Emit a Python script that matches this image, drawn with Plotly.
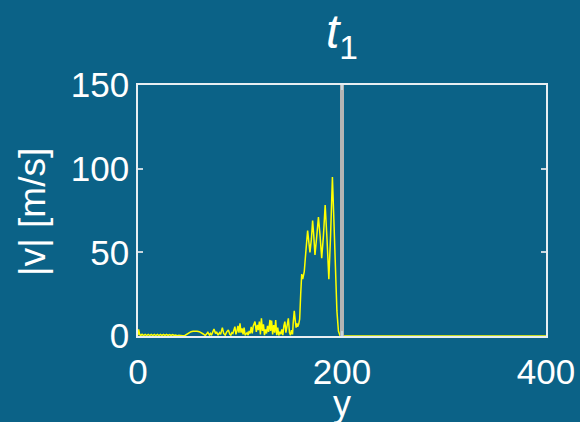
import plotly.graph_objects as go

# ---- data ----
y_pos = [
    0, 0.6, 1.5, 2.5, 4, 5.5, 7, 8.5, 10, 11.5,
    13, 14.5, 16, 17.5, 19, 20.5, 22, 23.5, 25, 26.5,
    28, 29.5, 31, 32.5, 34, 35.5, 37, 38.5, 40, 42,
    44, 46, 48, 50, 52, 54, 56, 58, 60, 62,
    64, 66, 67, 68.5, 70, 71, 72, 74.5, 76, 77,
    78.5, 80, 81, 82.7, 84, 85.5, 87, 88.6, 90, 91,
    92, 93, 95, 96, 97, 98, 99, 100, 101, 102,
    103, 104, 105, 106, 107, 108, 109, 110, 111, 112,
    113, 114.7, 116, 117, 118, 119, 120, 121, 122, 123,
    124, 125, 126, 127, 128, 129.4, 130, 131, 132, 133,
    134, 135, 136, 137, 138, 139, 140, 141, 142, 143,
    144, 145, 146, 147.4, 148.5, 149.5, 150.5, 151.5, 152.2, 153.2,
    154.2, 155, 155.7, 156.5, 157.5, 158.5, 159.5, 160.5, 161.5, 163,
    164.5, 166.3, 167.5, 168.6, 170, 171.2, 172.3, 173.5, 175, 176.9,
    178.5, 180.1, 181.8, 183.5, 185.3, 187.1, 188.8, 190.6, 192, 193.5,
    195, 196.5, 198, 199, 200, 400,
]
speed = [
    0.5, 4.0, 1.2, 0.2, 1.0, 0.3, 1.0, 0.3, 1.0, 0.3,
    1.0, 0.3, 1.0, 0.3, 1.0, 0.3, 1.0, 0.3, 0.9, 0.3,
    0.9, 0.3, 0.8, 0.3, 0.8, 0.3, 0.6, 0.2, 0.4, 0.2,
    0.2, 0.3, 1.2, 2.0, 2.6, 2.9, 3.0, 2.9, 2.6, 2.0,
    1.2, 0.3, 1.0, 2.2, 0.6, 1.5, 0.4, 4.2, 1.5, 2.5,
    0.5, 2.0, 1.0, 5.0, 1.5, 0.5, 2.5, 3.6, 1.0, 0.5,
    2.0, 1.5, 5.6, 1.0, 3.0, 6.0, 2.0, 7.6, 2.0, 4.5,
    1.0, 5.0, 0.5, 1.5, 2.0, 0.5, 3.0, 1.5, 5.5, 1.5,
    6.0, 8.6, 2.5, 6.6, 3.5, 8.6, 1.0, 10.6, 3.0, 7.0,
    0.5, 4.0, 1.5, 6.0, 2.5, 9.6, 3.0, 9.2, 1.0, 6.5,
    2.0, 9.6, 0.5, 5.0, 0.3, 2.5, 1.0, 4.0, 0.5, 6.0,
    8.6, 2.0, 6.0, 10.6, 2.0, 0.5, 3.5, 1.0, 8.0, 15.0,
    9.0, 5.0, 7.6, 5.5, 7.0, 10.0, 25.0, 37.0, 34.0, 38.5,
    50.0, 63.0, 56.0, 50.0, 58.0, 69.0, 60.0, 48.5, 58.0, 71.0,
    60.0, 46.5, 60.0, 78.3, 58.0, 34.0, 60.0, 95.0, 70.0, 40.0,
    15.0, 3.0, 0.3, 0.0, 0.0, 0.0,
]
marker_y = [200, 200]
marker_v = [0, 150]

x_ticks = [0, 200, 400]
v_ticks = [0, 50, 100, 150]

BG = "#0b6287"
FONT = "Liberation Sans, Arial, sans-serif"

fig = go.Figure()
fig.add_trace(go.Scatter(x=y_pos, y=speed, mode="lines",
                         line=dict(color="#ffff00", width=1.5),
                         showlegend=False, hoverinfo="skip"))
fig.add_trace(go.Scatter(x=marker_y, y=marker_v, mode="lines",
                         line=dict(color="#b4b4b4", width=4),
                         showlegend=False, hoverinfo="skip"))

axis_common = dict(
    showline=True, linecolor="#e8eef2", linewidth=1.5, mirror="ticks",
    ticks="inside", ticklen=5, tickcolor="#c8d6de", tickwidth=1.5,
    showgrid=False, zeroline=False, automargin=False,
    tickfont=dict(family=FONT, size=35, color="white"),
)

fig.update_layout(
    width=580, height=422,
    paper_bgcolor=BG, plot_bgcolor=BG,
    margin=dict(l=138, r=34, t=85, b=86),
    font=dict(family=FONT, color="white"),
    title=dict(text="<i>t</i><sub>1</sub>", x=0.5, xref="paper", xanchor="center",
               y=0.925, yref="container", yanchor="middle",
               font=dict(family=FONT, size=48, color="white")),
    xaxis=dict(range=[0, 400], tickvals=x_ticks, ticktext=[str(t) for t in x_ticks],
               ticklabelstandoff=4, **axis_common),
    yaxis=dict(range=[0, 150], tickvals=v_ticks, ticktext=[str(t) for t in v_ticks],
               **axis_common),
    annotations=[
        dict(text="y", xref="paper", yref="paper", x=0.5, y=-0.267,
             xanchor="center", yanchor="middle", showarrow=False,
             font=dict(family=FONT, size=36, color="white")),
        dict(text="|v| [m/s]", xref="paper", yref="paper", x=-0.26, y=0.494,
             xanchor="center", yanchor="middle", showarrow=False, textangle=-90,
             font=dict(family=FONT, size=37, color="white")),
    ],
)

fig.write_html(
    "out.html",
    config={"displayModeBar": False},
    post_script="document.body.style.margin='0';document.body.style.background='%s';" % BG,
)
